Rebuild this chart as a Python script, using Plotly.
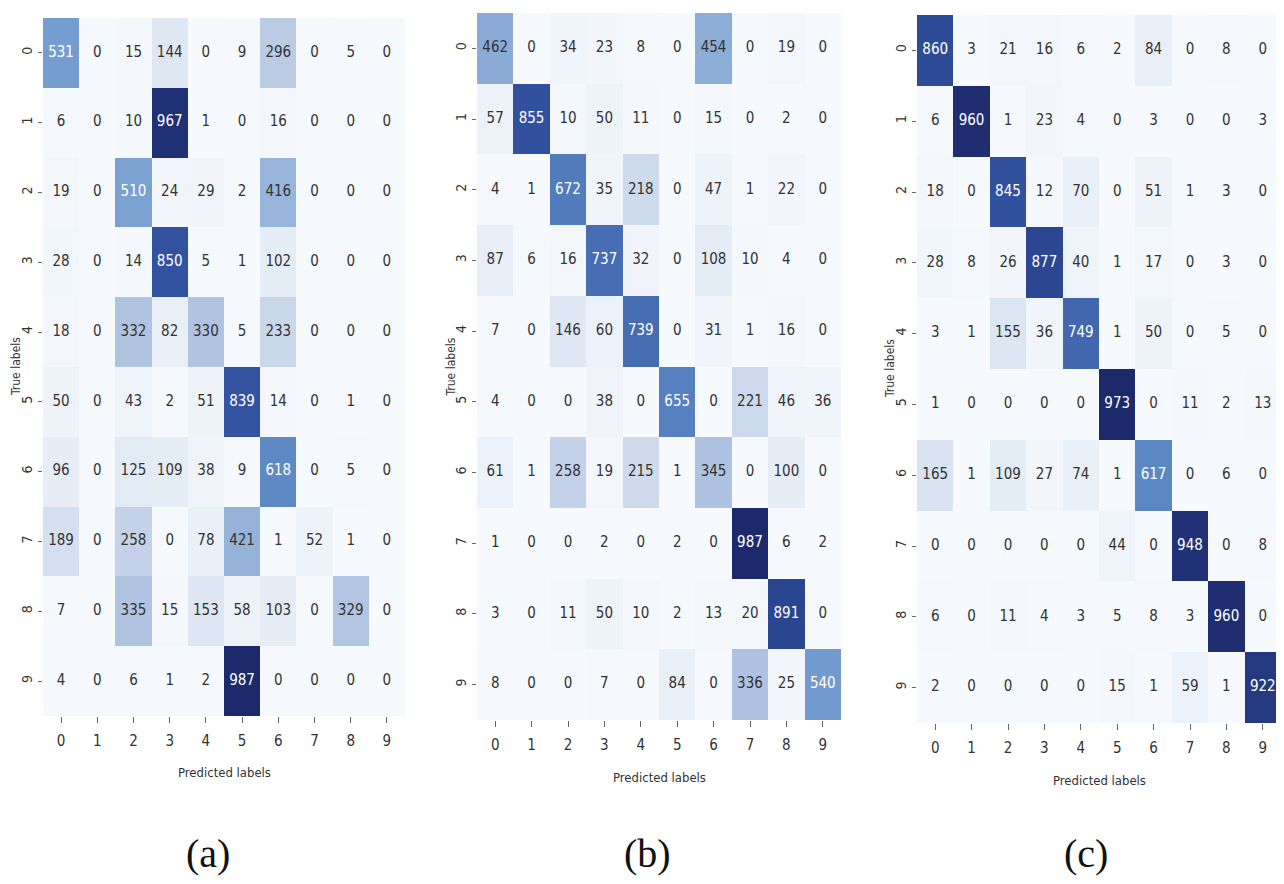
import plotly.graph_objects as go

# ---------------- data ----------------
classes = list(range(10))
tick_labels = [str(c) for c in classes]

cm_a = [
    [531, 0, 15, 144, 0, 9, 296, 0, 5, 0],
    [6, 0, 10, 967, 1, 0, 16, 0, 0, 0],
    [19, 0, 510, 24, 29, 2, 416, 0, 0, 0],
    [28, 0, 14, 850, 5, 1, 102, 0, 0, 0],
    [18, 0, 332, 82, 330, 5, 233, 0, 0, 0],
    [50, 0, 43, 2, 51, 839, 14, 0, 1, 0],
    [96, 0, 125, 109, 38, 9, 618, 0, 5, 0],
    [189, 0, 258, 0, 78, 421, 1, 52, 1, 0],
    [7, 0, 335, 15, 153, 58, 103, 0, 329, 0],
    [4, 0, 6, 1, 2, 987, 0, 0, 0, 0],
]
cm_b = [
    [462, 0, 34, 23, 8, 0, 454, 0, 19, 0],
    [57, 855, 10, 50, 11, 0, 15, 0, 2, 0],
    [4, 1, 672, 35, 218, 0, 47, 1, 22, 0],
    [87, 6, 16, 737, 32, 0, 108, 10, 4, 0],
    [7, 0, 146, 60, 739, 0, 31, 1, 16, 0],
    [4, 0, 0, 38, 0, 655, 0, 221, 46, 36],
    [61, 1, 258, 19, 215, 1, 345, 0, 100, 0],
    [1, 0, 0, 2, 0, 2, 0, 987, 6, 2],
    [3, 0, 11, 50, 10, 2, 13, 20, 891, 0],
    [8, 0, 0, 7, 0, 84, 0, 336, 25, 540],
]
cm_c = [
    [860, 3, 21, 16, 6, 2, 84, 0, 8, 0],
    [6, 960, 1, 23, 4, 0, 3, 0, 0, 3],
    [18, 0, 845, 12, 70, 0, 51, 1, 3, 0],
    [28, 8, 26, 877, 40, 1, 17, 0, 3, 0],
    [3, 1, 155, 36, 749, 1, 50, 0, 5, 0],
    [1, 0, 0, 0, 0, 973, 0, 11, 2, 13],
    [165, 1, 109, 27, 74, 1, 617, 0, 6, 0],
    [0, 0, 0, 0, 0, 44, 0, 948, 0, 8],
    [6, 0, 11, 4, 3, 5, 8, 3, 960, 0],
    [2, 0, 0, 0, 0, 15, 1, 59, 1, 922],
]
panel_captions = ["(a)", "(b)", "(c)"]
x_title = "Predicted labels"
y_title = "True labels"

# ---------------- style ----------------
# seaborn "Blues" (used for the light/dark annotation decision)
blues = ['#f7fbff', '#deebf7', '#c6dbef', '#9ecae1', '#6baed6',
         '#4292c6', '#2171b5', '#08519c', '#08306b']
# displayed colours, matched to the (slightly washed-out) reference picture
colorscale = [
    [0.00, 'rgb(246,249,253)'],
    [0.15, 'rgb(222,231,243)'],
    [0.30, 'rgb(186,203,228)'],
    [0.50, 'rgb(128,165,211)'],
    [0.63, 'rgb(92,136,196)'],
    [0.86, 'rgb(50,82,160)'],
    [1.00, 'rgb(28,42,108)'],
]

OFF = 8                       # page body margin
W, H = 1284 - OFF, 884 - OFF
# pixel boxes of each heatmap in the page: (left, right, top, bottom)
boxes = [(43, 405, 18, 716), (477, 841, 13, 720), (917, 1281, 15, 723)]
xtitle_y = [772, 777, 780]
caption_x = [208, 648, 1086]
NARROW = "Liberation Sans Narrow, DejaVu Sans Condensed, Arial Narrow, DejaVu Sans"
DARK = "#333333"


def px_x(v):
    return (v - OFF) / W


def px_y(v):
    return 1 - (v - OFF) / H


def hex2rgb(h):
    h = h.lstrip('#')
    return [int(h[i:i + 2], 16) for i in (0, 2, 4)]


def color_at(t):
    t = min(max(t, 0.0), 1.0)
    n = len(blues) - 1
    i = min(int(t * n), n - 1)
    f = t * n - i
    a, b = hex2rgb(blues[i]), hex2rgb(blues[i + 1])
    return [a[k] + (b[k] - a[k]) * f for k in range(3)]


def luminance(rgb):
    out = []
    for v in rgb:
        v = v / 255.0
        out.append(v / 12.92 if v <= 0.03928 else ((v + 0.055) / 1.055) ** 2.4)
    return 0.2126 * out[0] + 0.7152 * out[1] + 0.0722 * out[2]


fig = go.Figure()
annotations = []
for p, (cm, box) in enumerate(zip([cm_a, cm_b, cm_c], boxes)):
    sfx = "" if p == 0 else str(p + 1)
    xa, ya = "x" + sfx, "y" + sfx
    zmax = max(max(r) for r in cm)
    fig.add_trace(go.Heatmap(
        z=cm, x=classes, y=classes, colorscale=colorscale,
        zmin=0, zmax=zmax, showscale=False, xaxis=xa, yaxis=ya,
        hoverinfo="skip"))
    xs, ys, txt, cols = [], [], [], []
    for i, row in enumerate(cm):
        for j, v in enumerate(row):
            xs.append(classes[j]); ys.append(classes[i]); txt.append(str(v))
            cols.append("white" if luminance(color_at(v / zmax)) < 0.408 else DARK)
    fig.add_trace(go.Scatter(
        x=xs, y=ys, text=txt, mode="text", xaxis=xa, yaxis=ya,
        textfont=dict(family=NARROW, size=15, color=cols),
        hoverinfo="skip", showlegend=False))

    l, r, t, b = box
    xdom = [px_x(l), min(px_x(r), 1.0)]
    ydom = [px_y(b), px_y(t)]
    fig.update_layout(**{
        "xaxis" + sfx: dict(domain=xdom, anchor=ya, range=[-0.5, 9.5],
                            tickvals=classes, ticktext=tick_labels,
                            ticks="outside", ticklen=6, tickcolor="#666666",
                            tickwidth=1, ticklabelstandoff=5,
                            showgrid=False, zeroline=False, showline=False,
                            tickfont=dict(family=NARROW, size=15, color=DARK)),
        "yaxis" + sfx: dict(domain=ydom, anchor=xa, range=[9.5, -0.5],
                            tickvals=classes, ticktext=tick_labels,
                            ticks="outside", ticklen=4, tickcolor="#666666",
                            tickwidth=1, tickangle=-90, ticklabelstandoff=0,
                            showgrid=False, zeroline=False, showline=False,
                            tickfont=dict(family=NARROW, size=14, color=DARK)),
    })
    annotations.append(dict(text=x_title, x=px_x((l + r) / 2), y=px_y(xtitle_y[p]),
                            xref="paper", yref="paper", showarrow=False,
                            xanchor="center", yanchor="middle",
                            font=dict(family=NARROW, size=13, color=DARK)))
    annotations.append(dict(text=y_title, x=px_x(l - 27), y=px_y((t + b) / 2),
                            xref="paper", yref="paper", showarrow=False,
                            textangle=-90, xanchor="center", yanchor="middle",
                            font=dict(family=NARROW, size=12, color=DARK)))
    annotations.append(dict(text=panel_captions[p], x=px_x(caption_x[p]),
                            y=px_y(853), xref="paper", yref="paper",
                            showarrow=False, xanchor="center", yanchor="middle",
                            font=dict(family="Liberation Serif, Times New Roman, serif",
                                      size=40, color="#111111")))

fig.update_layout(width=W, height=H, margin=dict(l=0, r=0, t=0, b=0),
                  paper_bgcolor="white", plot_bgcolor="white",
                  showlegend=False, annotations=annotations)
fig.write_html("out.html")
